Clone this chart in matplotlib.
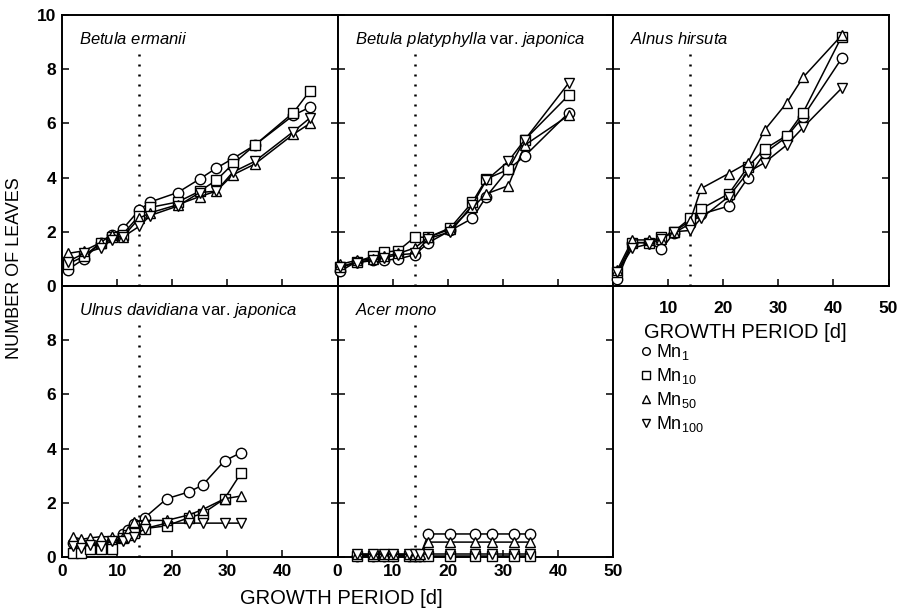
import matplotlib
matplotlib.use('Agg')
import matplotlib.pyplot as plt
from matplotlib.lines import Line2D

plt.rcParams['font.family'] = ['Liberation Sans', 'DejaVu Sans']
plt.rcParams['mathtext.fontset'] = 'custom'
plt.rcParams['mathtext.rm'] = 'Liberation Sans'
plt.rcParams['mathtext.it'] = 'Liberation Sans:italic'
plt.rcParams['mathtext.bf'] = 'Liberation Sans:bold'

# Betula ermanii
be_days = [1, 4, 7, 9, 11, 14, 16, 21, 25, 28, 31, 35, 42, 45]
be_mn1 = [0.6, 1.0, 1.6, 1.9, 2.1, 2.8, 3.1, 3.45, 3.95, 4.35, 4.7, 5.2, 6.3, 6.6]
be_mn10 = [0.8, 1.1, 1.6, 1.8, 1.9, 2.6, 2.9, 3.1, 3.5, 3.9, 4.5, 5.2, 6.4, 7.2]
be_mn50 = [1.2, 1.3, 1.6, 1.9, 1.8, 2.5, 2.7, 3.0, 3.3, 3.5, 4.1, 4.5, 5.6, 6.0]
be_mn100 = [0.9, 1.2, 1.4, 1.7, 1.8, 2.2, 2.6, 2.95, 3.45, 3.5, 4.2, 4.6, 5.7, 6.2]

# Betula platyphylla var. japonica
bp_days = [0.5, 3.5, 6.5, 8.5, 11, 14, 16.5, 20.5, 24.5, 27, 31, 34, 42]
bp_mn1 = [0.55, 0.9, 0.95, 0.95, 1.0, 1.15, 1.6, 2.05, 2.5, 3.3, 4.3, 4.8, 6.4]
bp_mn10 = [0.7, 0.9, 1.1, 1.25, 1.3, 1.8, 1.8, 2.15, 3.1, 3.95, 4.3, 5.4, 7.05]
bp_mn50 = [0.8, 0.95, 1.0, 1.1, 1.2, 1.4, 1.8, 2.1, 2.9, 3.4, 3.7, 5.2, 6.3]
bp_mn100 = [0.7, 0.85, 0.95, 1.05, 1.15, 1.2, 1.75, 2.0, 3.0, 3.9, 4.6, 5.4, 7.5]

# Alnus hirsuta
ah_days = [0.8, 3.5, 6.5, 8.8, 11, 14, 16, 21, 24.5, 27.5, 31.5, 34.5, 41.5]
ah_mn1 = [0.25, 1.6, 1.6, 1.35, 1.95, 2.3, 2.65, 2.95, 4.0, 4.9, 5.5, 6.25, 8.4]
ah_mn10 = [0.5, 1.6, 1.6, 1.8, 2.0, 2.5, 2.85, 3.4, 4.4, 5.05, 5.55, 6.4, 9.2]
ah_mn50 = [0.6, 1.7, 1.7, 1.75, 2.0, 2.4, 3.6, 4.15, 4.55, 5.75, 6.75, 7.7, 9.25]
ah_mn100 = [0.5, 1.4, 1.55, 1.75, 2.0, 2.05, 2.5, 3.3, 4.2, 4.55, 5.2, 5.85, 7.3]

# Ulnus davidiana var. japonica
ud_days = [2, 3.5, 5, 7, 9, 11, 12, 13, 15, 19, 23, 25.5, 29.5, 32.5]
ud_mn1 = [0.5, 0.4, 0.4, 0.5, 0.6, 0.85, 1.0, 1.2, 1.45, 2.15, 2.4, 2.65, 3.55, 3.85]
ud_mn10 = [0.15, 0.15, 0.3, 0.3, 0.3, 0.7, 0.8, 0.9, 1.05, 1.15, 1.45, 1.6, 2.15, 3.1]
ud_mn50 = [0.75, 0.65, 0.7, 0.75, 0.75, 0.75, 0.95, 1.3, 1.35, 1.35, 1.55, 1.75, 2.15, 2.25]
ud_mn100 = [0.4, 0.35, 0.45, 0.4, 0.6, 0.6, 0.7, 0.75, 1.05, 1.25, 1.25, 1.25, 1.25, 1.25]

# Acer mono
am_days = [3.5, 6.5, 8.5, 10, 13, 14, 15, 16.5, 20.5, 25, 28, 32, 35]
am_mn1 = [0.05, 0.05, 0.05, 0.05, 0.05, 0.05, 0.05, 0.85, 0.85, 0.85, 0.85, 0.85, 0.85]
am_mn10 = [0.05, 0.05, 0.05, 0.05, 0.05, 0.05, 0.05, 0.05, 0.05, 0.05, 0.05, 0.05, 0.05]
am_mn50 = [0.1, 0.1, 0.1, 0.1, 0.1, 0.1, 0.1, 0.55, 0.55, 0.55, 0.55, 0.55, 0.55]
am_mn100 = [0.1, 0.1, 0.1, 0.1, 0.1, 0.1, 0.1, 0.1, 0.1, 0.1, 0.1, 0.1, 0.1]

titles = [r'$\it{Betula\ ermanii}$',
          r'$\it{Betula\ platyphylla}$ var. $\it{japonica}$',
          r'$\it{Alnus\ hirsuta}$',
          r'$\it{Ulnus\ davidiana}$ var. $\it{japonica}$',
          r'$\it{Acer\ mono}$']
panels = [
    (be_days, [be_mn1, be_mn10, be_mn50, be_mn100]),
    (bp_days, [bp_mn1, bp_mn10, bp_mn50, bp_mn100]),
    (ah_days, [ah_mn1, ah_mn10, ah_mn50, ah_mn100]),
    (ud_days, [ud_mn1, ud_mn10, ud_mn50, ud_mn100]),
    (am_days, [am_mn1, am_mn10, am_mn50, am_mn100]),
]
markers = ['o', 's', '^', 'v']
legend_labels = [r'Mn$_{1}$', r'Mn$_{10}$', r'Mn$_{50}$', r'Mn$_{100}$']
transfer_day = 14

x_ticks = [0, 10, 20, 30, 40, 50]
y_ticks = [0, 2, 4, 6, 8, 10]
# which tick labels each panel shows (None = hidden)
x_labels = [None, None,
            ['', '10', '20', '30', '40', '50'],
            ['0', '10', '20', '30', '40', ''],
            ['0', '10', '20', '30', '40', '50']]
y_labels = [['0', '2', '4', '6', '8', '10'], None, None,
            ['0', '2', '4', '6', '8', ''], None]

fig = plt.figure(figsize=(8.98, 6.10), dpi=100)
W, H = 898, 610
pw, ph = 275.5, 271
lefts = [62, 337.5, 613]
top_bottom = H - 286
bot_bottom = H - 557
positions = [(lefts[0], top_bottom), (lefts[1], top_bottom), (lefts[2], top_bottom),
             (lefts[0], bot_bottom), (lefts[1], bot_bottom)]

axes = []
for i, ((x0, y0), (days, series)) in enumerate(zip(positions, panels)):
    ax = fig.add_axes([x0 / W, y0 / H, pw / W, ph / H])
    axes.append(ax)
    for s, m in zip(series, markers):
        ax.plot(days, s, color='black', lw=1.1, marker=m, markersize=7.5,
                markerfacecolor='white', markeredgecolor='black', markeredgewidth=1.0,
                clip_on=False, zorder=3)
    ax.plot([transfer_day, transfer_day], [0, 8.8], color='black', lw=1.8,
            linestyle=(0, (0.8, 3.2)), zorder=2)
    ax.set_xlim(0, 50)
    ax.set_ylim(0, 10)
    ax.set_xticks(x_ticks)
    ax.set_yticks(y_ticks)
    ax.tick_params(direction='in', length=5, width=1.1, right=True, top=False,
                   labelsize=12.5, pad=4)
    if x_labels[i] is None:
        ax.set_xticklabels([])
    else:
        ax.set_xticklabels(x_labels[i], fontweight='bold', fontsize=12.5)
    if y_labels[i] is None:
        ax.set_yticklabels([])
    else:
        ax.set_yticklabels(y_labels[i], fontweight='bold', fontsize=12.5)
    for sp in ax.spines.values():
        sp.set_linewidth(1.4)
    ax.text(0.062, 0.893, titles[i], transform=ax.transAxes, fontsize=12,
            ha='left', va='baseline')

axes[2].tick_params(axis='x', pad=11)
axes[3].tick_params(axis='x', pad=5)
axes[4].tick_params(axis='x', pad=5)

fig.text(15 / W, 1 - 268 / H, 'NUMBER OF LEAVES', rotation=90, ha='center', va='center',
         fontsize=13)
fig.text(341 / W, 1 - 599 / H, 'GROWTH PERIOD [d]', ha='center', va='center', fontsize=14.5)
fig.text(745 / W, 1 - 333 / H, 'GROWTH PERIOD [d]', ha='center', va='center', fontsize=14.5)

handles = [Line2D([0], [0], linestyle='none', marker=m, markersize=5.5,
                  markerfacecolor='white', markeredgecolor='black', markeredgewidth=1.0)
           for m in markers]
fig.legend(handles, legend_labels, loc='upper left', bbox_to_anchor=(632 / W, 1 - 333 / H),
           frameon=False, fontsize=13, handlelength=0.5, handletextpad=0.35,
           labelspacing=0.22, borderpad=0)

fig.savefig('out.png', dpi=100)
